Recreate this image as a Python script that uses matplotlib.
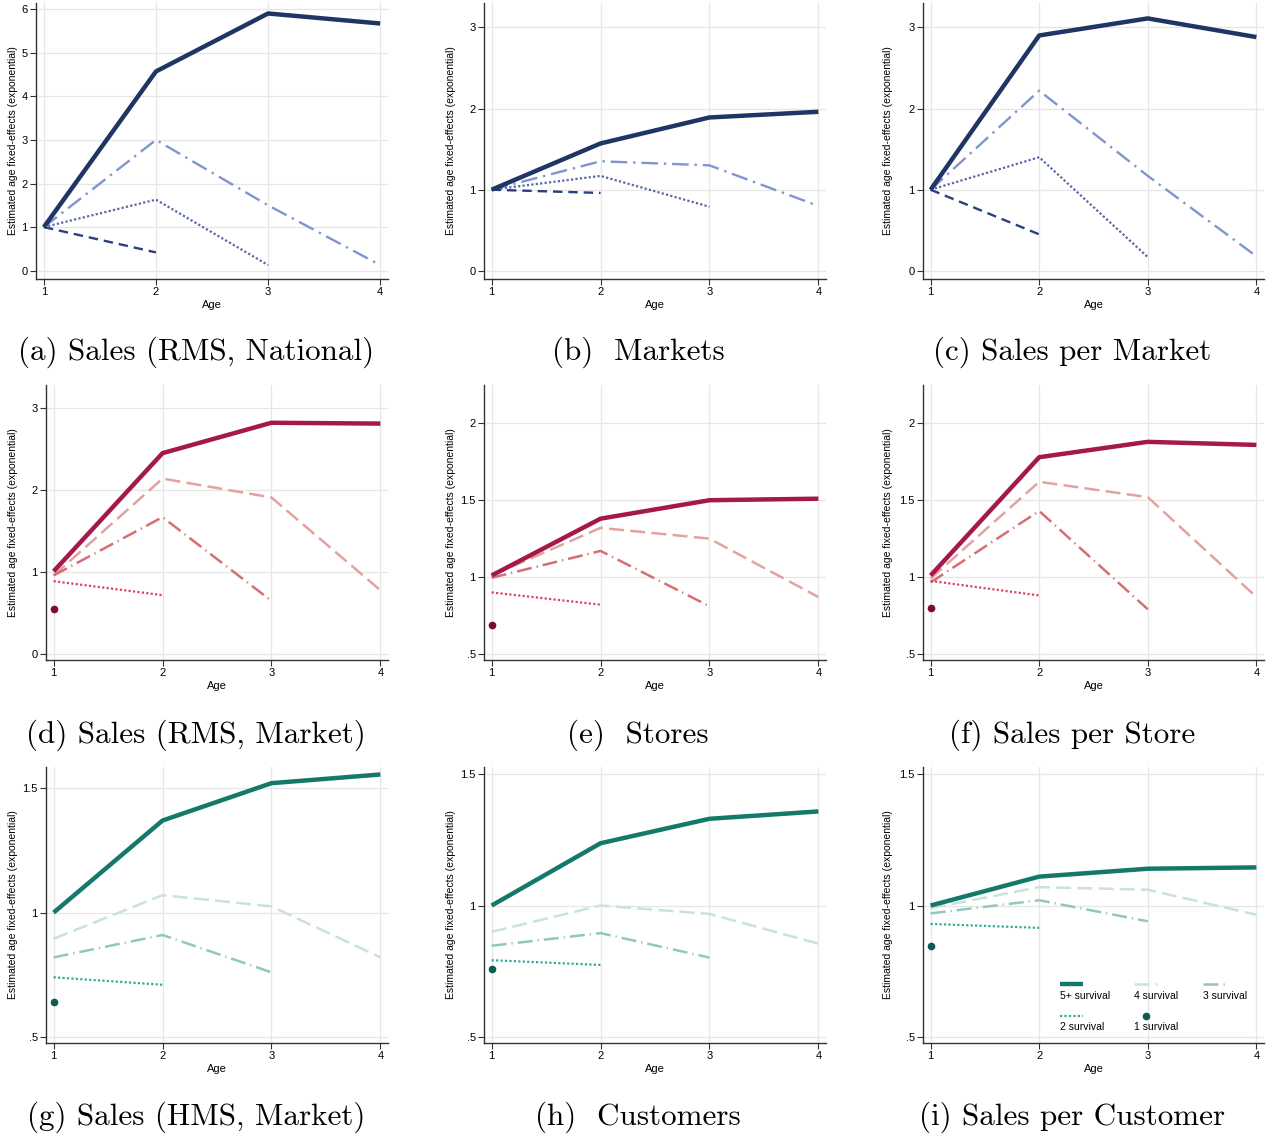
import matplotlib
matplotlib.use("Agg")
import matplotlib.pyplot as plt

ages = [1, 2, 3, 4]
survival_labels = ["5+ survival", "4 survival", "3 survival", "2 survival", "1 survival"]

# each panel: series 5+, 4, 3, 2 (, 1) survival, values by age
sales_rms_national = [[1, 4.57, 5.90, 5.67], [1, 3.00, 1.50, 0.13], [1, 1.63, 0.13], [1, 0.42]]
markets = [[1, 1.57, 1.89, 1.96], [1, 1.35, 1.30, 0.80], [1, 1.17, 0.79], [1, 0.96]]
sales_per_market = [[1, 2.90, 3.11, 2.88], [1, 2.22, 1.17, 0.18], [1, 1.40, 0.17], [1, 0.45]]

sales_rms_market = [[1.01, 2.45, 2.82, 2.81], [0.96, 2.14, 1.91, 0.78], [0.96, 1.67, 0.65], [0.89, 0.72], [0.55]]
stores = [[1.01, 1.38, 1.50, 1.51], [1.01, 1.32, 1.25, 0.87], [0.995, 1.17, 0.81], [0.90, 0.82], [0.69]]
sales_per_store = [[1.01, 1.78, 1.88, 1.86], [0.99, 1.62, 1.52, 0.87], [0.965, 1.43, 0.79], [0.975, 0.88], [0.80]]

sales_hms_market = [[1.0, 1.37, 1.52, 1.555], [0.895, 1.07, 1.025, 0.82], [0.82, 0.91, 0.76], [0.74, 0.71], [0.64]]
customers = [[1.0, 1.237, 1.33, 1.358], [0.90, 1.0, 0.968, 0.855], [0.847, 0.895, 0.802], [0.792, 0.774], [0.757]]
sales_per_customer = [[1.0, 1.11, 1.14, 1.145], [0.99, 1.07, 1.06, 0.965], [0.97, 1.02, 0.94], [0.93, 0.915], [0.845]]

captions = ["(a) Sales (RMS, National)", "(b)  Markets", "(c) Sales per Market",
            "(d) Sales (RMS, Market)", "(e)  Stores", "(f) Sales per Store",
            "(g) Sales (HMS, Market)", "(h)  Customers", "(i) Sales per Customer"]

blue = [dict(color="#1f3563", lw=3.2, ls="-"),
        dict(color="#7e95cf", lw=1.7, ls=(0, (7, 2.5, 1, 2.5))),
        dict(color="#5867a8", lw=1.6, ls=(0, (1, 1))),
        dict(color="#2b3f7e", lw=1.7, ls=(0, (4, 2.5)))]
red = [dict(color="#a5184a", lw=3.2, ls="-"),
       dict(color="#e2a2a0", lw=1.8, ls=(0, (6, 2.5))),
       dict(color="#d46f72", lw=1.8, ls=(0, (6, 2, 0.5, 2))),
       dict(color="#e0435e", lw=1.6, ls=(0, (1, 1))),
       dict(color="#7b0c2e")]
green = [dict(color="#14796a", lw=3.2, ls="-"),
         dict(color="#c9e2dc", lw=1.8, ls=(0, (6, 2.5))),
         dict(color="#91c7c0", lw=1.8, ls=(0, (6, 2, 0.5, 2))),
         dict(color="#2fab9b", lw=1.6, ls=(0, (1, 1))),
         dict(color="#0b5c51")]

plt.rcParams["font.family"] = ["Liberation Sans", "DejaVu Sans"]

W, H = 1268, 1140
fig = plt.figure(figsize=(W / 100, H / 100), dpi=100)

# axes boxes in pixels: left, right, top, bottom
lefts = [[36, 484, 923], [46, 484, 923], [46, 484, 923]]
rights = [388, 826, 1264]
tops = [3, 385, 767]
bottoms = [279, 660, 1043]
ylab_right = [18, 456, 893]
cap_x = [196, 638, 1072]
cap_y = [352, 735, 1117]

panels = [sales_rms_national, markets, sales_per_market,
          sales_rms_market, stores, sales_per_store,
          sales_hms_market, customers, sales_per_customer]
styles = [blue, red, green]
ylims = [(-0.19, 6.14), (-0.1, 3.3), (-0.1, 3.3),
         (-0.07, 3.28), (0.46, 2.25), (0.46, 2.25),
         (0.476, 1.585), (0.477, 1.527), (0.477, 1.527)]
yticks = [[0, 1, 2, 3, 4, 5, 6], [0, 1, 2, 3], [0, 1, 2, 3],
          [0, 1, 2, 3], [0.5, 1, 1.5, 2], [0.5, 1, 1.5, 2],
          [0.5, 1, 1.5], [0.5, 1, 1.5], [0.5, 1, 1.5]]


def fmt(v):
    s = ("%g" % v)
    return s[1:] if s.startswith("0.") else s


for k, data in enumerate(panels):
    r, c = divmod(k, 3)
    L, R, T, B = lefts[r][c], rights[c], tops[r], bottoms[r]
    ax = fig.add_axes([L / W, 1 - B / H, (R - L) / W, (B - T) / H])
    st = styles[r]
    for i, vals in enumerate(data):
        if i == 4:
            ax.plot(ages[:len(vals)], vals, "o", color=st[i]["color"], ms=4.5,
                    label=survival_labels[i], zorder=3)
        else:
            ax.plot(ages[:len(vals)], vals, color=st[i]["color"], lw=st[i]["lw"],
                    ls=st[i]["ls"], solid_capstyle="butt", label=survival_labels[i],
                    zorder=3 if i == 0 else 2)
    ax.set_xlim(0.93, 4.07)
    ax.set_ylim(*ylims[k])
    ax.set_xticks(ages)
    ax.set_yticks(yticks[k])
    ax.set_yticklabels([fmt(v) for v in yticks[k]])
    ax.grid(True, color="#e6e6e6", lw=0.9)
    ax.set_axisbelow(True)
    for sp in ["top", "right"]:
        ax.spines[sp].set_visible(False)
    for sp in ["left", "bottom"]:
        ax.spines[sp].set_color("#333333")
        ax.spines[sp].set_linewidth(1.0)
    ax.tick_params(length=4, width=0.8, color="#333333", labelsize=8, pad=2)
    ax.set_xlabel("Age", fontsize=8, labelpad=2)
    ax.set_ylabel("Estimated age fixed-effects (exponential)", fontsize=7.5)
    ax.yaxis.set_label_coords((ylab_right[c] - L) / (R - L), 0.5)
    fig.text(cap_x[c] / W, 1 - cap_y[r] / H, captions[k], family="cmr10",
             fontsize=22.4, ha="center", va="center")
    if k == 8:
        h, l = ax.get_legend_handles_labels()
        order = [0, 3, 1, 4, 2]  # legend fills by column; this gives rows 5+,4,3 / 2,1
        ax.legend([h[j] for j in order], ["\n\n" + l[j] for j in order], ncol=3,
                  loc="lower right", bbox_to_anchor=(0.977, 0.005), frameon=False,
                  fontsize=7.5, handlelength=2.2, handletextpad=-2.2,
                  columnspacing=2.3, labelspacing=-0.15)

fig.savefig("out.png", dpi=100, facecolor="white")
